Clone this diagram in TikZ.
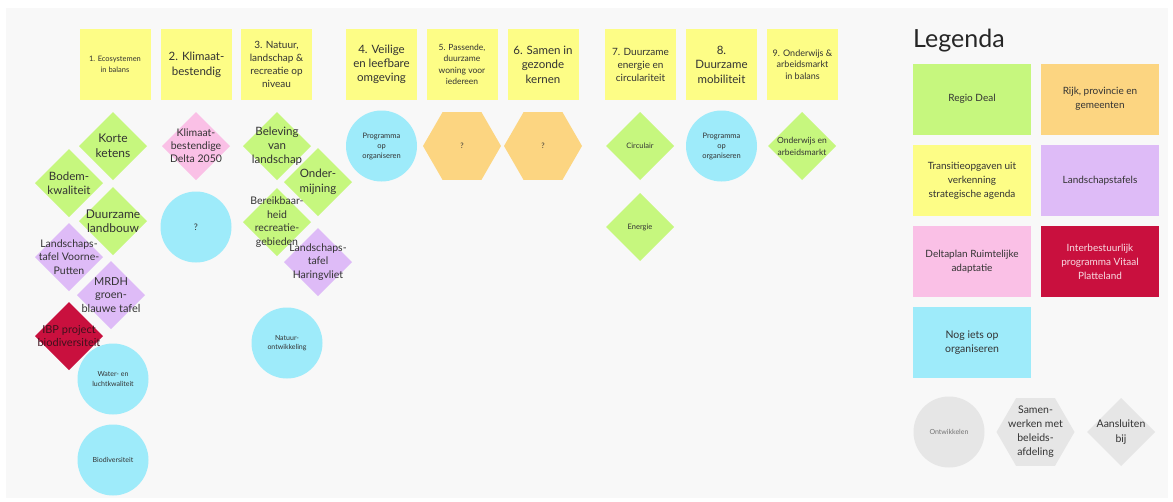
\documentclass[tikz,border=0pt]{standalone}
\usepackage{fontspec}
\setmainfont{Lato}
\usetikzlibrary{shapes.geometric}
\definecolor{bgc}{HTML}{F8F8F8}
\definecolor{ylw}{HTML}{FDFD86}
\definecolor{grn}{HTML}{C6F77E}
\definecolor{pnk}{HTML}{FAC0E6}
\definecolor{prp}{HTML}{DEBBF7}
\definecolor{crm}{HTML}{C9103E}
\definecolor{cyn}{HTML}{9EEBFA}
\definecolor{org}{HTML}{FCD581}
\definecolor{gry}{HTML}{E6E6E6}
\definecolor{txc}{HTML}{333333}
\definecolor{ibptx}{HTML}{40101C}
\definecolor{wtx}{HTML}{F8DCE3}
\newcommand\myfs[2]{\fontsize{#1}{#2}\selectfont}
\tikzset{
  shp/.style={inner sep=0pt, outer sep=0pt, draw=none},
  dia/.style={shp, diamond, shape aspect=1, minimum width=68pt, minimum height=68pt},
  circ/.style={shp, circle, minimum size=71pt},
  hexa/.style={shp, regular polygon, regular polygon sides=6, minimum size=78pt},
  sq/.style={shp, rectangle, minimum width=71pt, minimum height=71pt, fill=ylw},
  lbox/.style={shp, rectangle, minimum width=118pt, minimum height=71pt},
  txt/.style={align=center, inner sep=0pt, text=txc},
}
\begin{document}
\begin{tikzpicture}[x=1pt, y=-1pt]
\fill[white] (0,0) rectangle (1173,501);
\fill[bgc] (6,8) rectangle (1168,498);
\useasboundingbox (0,0) rectangle (1173,501);

% ---------- header squares ----------
\node[sq] (h1) at (115,64.5) {};
\node[sq] (h2) at (196.5,64.5) {};
\node[sq] (h3) at (276.5,64.5) {};
\node[sq] (h4) at (381.5,64.5) {};
\node[sq] (h5) at (462,64.5) {};
\node[sq] (h6) at (543,64.5) {};
\node[sq] (h7) at (640.5,64.5) {};
\node[sq] (h8) at (721.5,64.5) {};
\node[sq] (h9) at (802.5,64.5) {};

% ---------- column 1 ----------
\node[dia, fill=grn] (kk) at (113,146) {};
\node[dia, fill=grn] (bk) at (69,183) {};
\node[dia, fill=grn] (dl) at (113,221) {};
\node[dia, fill=prp] (vp) at (69,257) {};
\node[dia, fill=prp] (mr) at (111,295) {};
\node[dia, fill=crm] (ibp) at (69,336) {};
\node[circ, fill=cyn] (wl) at (113,379) {};
\node[circ, fill=cyn] (bd) at (113,460) {};

% ---------- column 2 ----------
\node[dia, fill=pnk] (kd) at (196,146) {};
\node[circ, fill=cyn] (q2) at (196,227) {};

% ---------- column 3 ----------
\node[dia, fill=grn] (bl) at (277,146) {};
\node[dia, fill=grn] (om) at (318,182) {};
\node[dia, fill=grn] (br) at (277,222) {};
\node[dia, fill=prp] (hv) at (318,262) {};
\node[circ, fill=cyn] (no) at (287,343) {};

% ---------- columns 4-9 ----------
\node[circ, fill=cyn] (p4) at (381.5,146) {};
\node[hexa, fill=org] (x5) at (462,146) {};
\node[hexa, fill=org] (x6) at (543,146) {};
\node[dia, fill=grn] (ci) at (640,146) {};
\node[dia, fill=grn] (en) at (640,227) {};
\node[circ, fill=cyn] (p8) at (721.5,146) {};
\node[dia, fill=grn] (oa) at (802,146) {};

% ---------- legend ----------
\node[anchor=base west, inner sep=0pt, text=black!85, font=\myfs{25}{30}] (lt) at (913,47) {Legenda};
\node[lbox, fill=grn] (l1) at (972,99) {};
\node[lbox, fill=org] (l2) at (1100,99) {};
\node[lbox, fill=ylw] (l3) at (972,180.5) {};
\node[lbox, fill=prp] (l4) at (1100,180.5) {};
\node[lbox, fill=pnk] (l5) at (972,261.5) {};
\node[lbox, fill=crm] (l6) at (1100,261.5) {};
\node[lbox, fill=cyn] (l7) at (972,342.5) {};
\node[circ, fill=gry] (g1) at (949,432) {};
\node[hexa, fill=gry] (g2) at (1035.5,432) {};
\node[dia, fill=gry] (g3) at (1121,432) {};

% ---------- texts ----------
\node[txt, font=\myfs{7.5}{11}] (h1t) at (h1) {1. Ecosystemen\\in balans};
\node[txt, font=\myfs{11.5}{15}] (h2t) at (h2) {2. Klimaat-\\bestendig};
\node[txt, font=\myfs{10}{13}] (h3t) at (h3) {3. Natuur,\\landschap \&\\recreatie op\\niveau};
\node[txt, font=\myfs{11.5}{14}] (h4t) at (h4) {4. Veilige\\en leefbare\\omgeving};
\node[txt, font=\myfs{8.5}{11.3}] (h5t) at (h5) {5. Passende,\\duurzame\\woning voor\\iedereen};
\node[txt, font=\myfs{11.5}{14.5}] (h6t) at (h6) {6. Samen in\\gezonde\\kernen};
\node[txt, font=\myfs{10}{13}] (h7t) at (h7) {7. Duurzame\\energie en\\circulariteit};
\node[txt, font=\myfs{11.5}{14.5}] (h8t) at (h8) {8.\\Duurzame\\mobiliteit};
\node[txt, font=\myfs{9}{11.5}] (h9t) at (h9) {9. Onderwijs \&\\arbeidsmarkt\\in balans};

\node[txt, font=\myfs{12}{15}] (kkt) at (kk) {Korte\\ketens};
\node[txt, font=\myfs{11.5}{14}] (bkt) at (bk) {Bodem-\\kwaliteit};
\node[txt, font=\myfs{12}{14}] (dlt) at (dl) {Duurzame\\landbouw};
\node[txt, font=\myfs{10.5}{13.5}] (vpt) at (vp) {Landschaps-\\tafel Voorne-\\Putten};
\node[txt, font=\myfs{11}{13.5}] (mrt) at (mr) {MRDH\\groen-\\blauwe tafel};
\node[txt, text=ibptx, font=\myfs{11}{13.5}] (ibpt) at (ibp) {IBP project\\biodiversiteit};
\node[txt, font=\myfs{7}{9.5}] (wlt) at (wl) {Water- en\\luchtkwaliteit};
\node[txt, font=\myfs{7}{9}] (bdt) at (bd) {Biodiversiteit};

\node[txt, font=\myfs{10.5}{13}] (kdt) at (kd) {Klimaat-\\bestendige\\Delta 2050};
\node[txt, font=\myfs{9}{11}] (q2t) at (q2) {?};

\node[txt, font=\myfs{11.5}{14}] (blt) at (bl) {Beleving\\van\\landschap};
\node[txt, font=\myfs{11.5}{15}] (omt) at (om) {Onder-\\mijning};
\node[txt, font=\myfs{10.5}{13.5}] (brt) at (br) {Bereikbaar-\\heid\\recreatie-\\gebieden};
\node[txt, font=\myfs{10.5}{13.5}] (hvt) at (hv) {Landschaps-\\tafel\\Haringvliet};
\node[txt, font=\myfs{7}{9.5}] (not) at (no) {Natuur-\\ontwikkeling};

\node[txt, font=\myfs{7.5}{10}] (p4t) at (p4) {Programma\\op\\organiseren};
\node[txt, font=\myfs{7.5}{10}] (x5t) at (x5) {?};
\node[txt, font=\myfs{7.5}{10}] (x6t) at (x6) {?};
\node[txt, font=\myfs{7.5}{10}] (cit) at (ci) {Circulair};
\node[txt, font=\myfs{7.5}{10}] (ent) at (en) {Energie};
\node[txt, font=\myfs{7.5}{10}] (p8t) at (p8) {Programma\\op\\organiseren};
\node[txt, font=\myfs{8.5}{12}] (oat) at (oa) {Onderwijs en\\arbeidsmarkt};

\node[txt, font=\myfs{10}{14}] (l1t) at (l1) {Regio Deal};
\node[txt, font=\myfs{10}{14}] (l2t) at (l2) {Rijk, provincie en\\gemeenten};
\node[txt, font=\myfs{10}{14}] (l3t) at (l3) {Transitieopgaven uit\\verkenning\\strategische agenda};
\node[txt, font=\myfs{10}{14}] (l4t) at (l4) {Landschapstafels};
\node[txt, font=\myfs{10}{14}] (l5t) at (l5) {Deltaplan Ruimtelijke\\adaptatie};
\node[txt, text=wtx, font=\myfs{10}{14}] (l6t) at (l6) {Interbestuurlijk\\programma Vitaal\\Platteland};
\node[txt, font=\myfs{10.5}{14.5}] (l7t) at (l7) {Nog iets op\\organiseren};
\node[txt, text=black!55, font=\myfs{7}{9}] (g1t) at (g1) {Ontwikkelen};
\node[txt, font=\myfs{10.5}{14}] (g2t) at (g2) {Samen-\\werken met\\beleids-\\afdeling};
\node[txt, font=\myfs{10.5}{14.5}] (g3t) at (g3) {Aansluiten\\bij};
\end{tikzpicture}
\end{document}
